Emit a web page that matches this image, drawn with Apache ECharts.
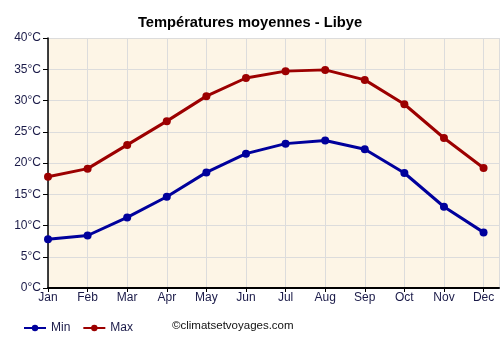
<!DOCTYPE html>
<html><head><meta charset="utf-8">
<script src="https://cdn.jsdelivr.net/npm/echarts@6/dist/echarts.min.js"></script>
<style>html,body{margin:0;padding:0;background:#fff}#c{width:500px;height:350px}</style>
</head><body><div id="c"></div>
<script>
const months = ['Jan','Feb','Mar','Apr','May','Jun','Jul','Aug','Sep','Oct','Nov','Dec'];
const minTemps = [7.8, 8.4, 11.3, 14.6, 18.5, 21.5, 23.1, 23.6, 22.2, 18.4, 13.0, 8.9];
const maxTemps = [17.8, 19.1, 22.9, 26.7, 30.7, 33.6, 34.7, 34.9, 33.3, 29.4, 24.0, 19.2];
const yTicks = [0, 5, 10, 15, 20, 25, 30, 35, 40];

const chart = echarts.init(document.getElementById('c'), null, {renderer: 'canvas'});
const font = 'Liberation Sans, Arial, sans-serif';
const lblColor = '#1a1a48';
chart.setOption({
  animation: false,
  textStyle: {fontFamily: font},
  title: {
    text: 'Températures moyennes - Libye',
    left: 'center', top: 10,
    textStyle: {fontSize: 14.7, fontWeight: 'bold', color: '#000', fontFamily: font}
  },
  grid: {left: 48, right: 1, top: 38, bottom: 62, backgroundColor: '#fdf5e6', show: true, borderWidth: 0},
  xAxis: {
    type: 'value', min: 0, max: 11.39, interval: 1,
    axisLine: {show: true, lineStyle: {color: '#000', width: 2}},
    axisTick: {show: true, length: 4, lineStyle: {color: '#000'}},
    splitLine: {show: true, lineStyle: {color: '#dcdcdc', width: 1}},
    axisLabel: {
      color: lblColor, fontSize: 12, margin: 4, showMaxLabel: false,
      formatter: v => (Number.isInteger(v) && v >= 0 && v < months.length) ? months[v] : ''
    }
  },
  yAxis: {
    type: 'value', min: yTicks[0], max: yTicks[yTicks.length-1], interval: 5,
    axisLine: {show: true, lineStyle: {color: '#000', width: 1.5}},
    axisTick: {show: true, length: 5, lineStyle: {color: '#000'}},
    splitLine: {show: true, lineStyle: {color: '#dcdcdc', width: 1}},
    axisLabel: {color: lblColor, fontSize: 12, margin: 7, formatter: v => v + '°C'}
  },
  legend: {
    left: 18, top: 317, itemWidth: 22, itemHeight: 8, itemGap: 12,
    textStyle: {color: lblColor, fontSize: 12, fontFamily: font},
    data: ['Min', 'Max']
  },
  graphic: [{
    type: 'text', left: 172, top: 320,
    style: {text: '©climatsetvoyages.com', fill: '#111', font: '11.5px ' + font}
  }],
  series: [
    {
      name: 'Min', type: 'line', data: minTemps.map((v, i) => [i, v]),
      color: '#00009c', symbol: 'circle', symbolSize: 8,
      lineStyle: {width: 3}
    },
    {
      name: 'Max', type: 'line', data: maxTemps.map((v, i) => [i, v]),
      color: '#9c0000', symbol: 'circle', symbolSize: 8,
      lineStyle: {width: 3}
    }
  ]
});
</script></body></html>
